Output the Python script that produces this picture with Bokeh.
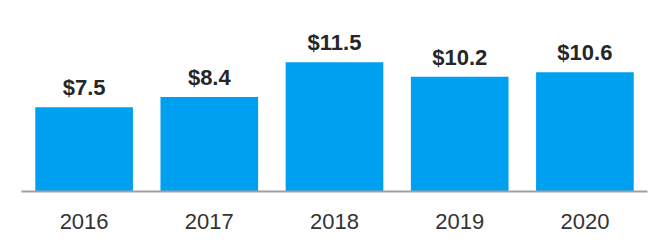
from bokeh.plotting import figure
from bokeh.models import ColumnDataSource, Range1d, FactorRange
from bokeh.embed import file_html
from bokeh.resources import INLINE
from bokeh.core.properties import value

years = ["2016", "2017", "2018", "2019", "2020"]
values = [7.5, 8.4, 11.5, 10.2, 10.6]
labels = ["$7.5", "$8.4", "$11.5", "$10.2", "$10.6"]

src = ColumnDataSource(dict(x=years, top=values, label=labels))

p = figure(width=666, height=250, x_range=FactorRange(*years, range_padding=0),
           y_range=Range1d(0, 191 / 11.25),
           output_backend="svg", toolbar_location=None,
           min_border_left=21, min_border_right=19, min_border_top=0, min_border_bottom=59)

p.vbar(x="x", top="top", width=0.78, source=src, color="#00A0F0", line_color=None)
p.text(x="x", y="top", text="label", source=src, text_align="center",
       text_baseline="bottom", y_offset=-7,
       text_font=value("Liberation Sans"), text_font_style="bold",
       text_font_size="22px", text_color="#262626")

p.xgrid.visible = False
p.ygrid.visible = False
p.yaxis.visible = False
p.outline_line_color = None
p.xaxis.axis_line_color = "#A0A0A0"
p.xaxis.axis_line_width = 2
p.xaxis.major_tick_line_color = None
p.xaxis.minor_tick_line_color = None
p.xaxis.major_label_text_font = "Liberation Sans"
p.xaxis.major_label_text_font_size = "22px"
p.xaxis.major_label_text_color = "#333333"
p.xaxis.major_label_standoff = 16
p.background_fill_color = "white"
p.border_fill_color = "white"

open("out.html", "w").write(file_html(p, INLINE))
